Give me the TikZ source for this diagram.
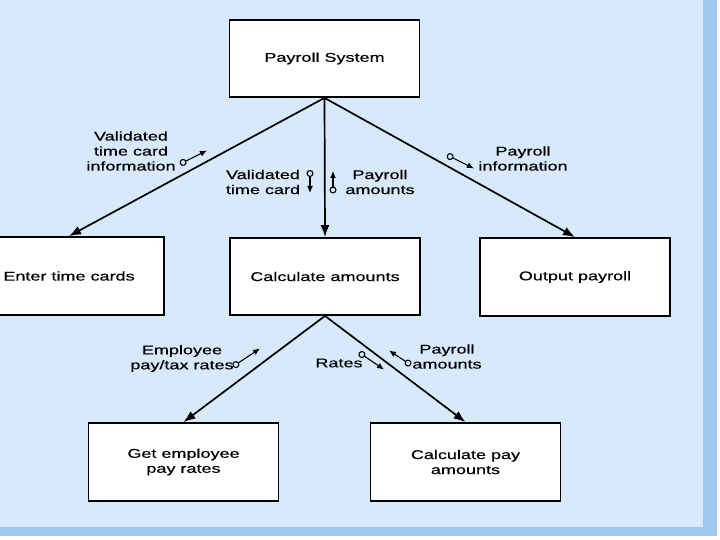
\documentclass[tikz,border=0pt]{standalone}
\usepackage{fontspec}
\setmainfont{Liberation Sans}[FakeStretch=1.42, FakeBold=0.4]
\usetikzlibrary{arrows.meta}
\definecolor{panelblue}{RGB}{215,233,251}
\definecolor{edgeblue}{RGB}{160,199,240}
\tikzset{
	box/.style={draw, fill=white, rectangle, line width=1.8pt, minimum width=190pt, minimum height=77pt, align=center, text centered},
	lab/.style={align=center, inner sep=0pt},
	flow/.style={line width=1.7pt, -{Latex[length=12pt,width=9pt]}},
	couple/.style={line width=1.1pt, {Circle[open,length=7pt,width=7pt]}-{Latex[length=7pt,width=6pt]}}
}
\begin{document}
\begin{tikzpicture}[x=1pt, y=-1pt, font=\fontsize{12.7}{15}\selectfont]

	%Background
	\useasboundingbox (0,0) rectangle (720,540);
	\fill[white] (0,0) rectangle (720,540);
	\fill[edgeblue] (0,0) rectangle (717,536);
	\fill[panelblue] (0,0) rectangle (703,527);

	%Nodes
	\node (payroll) at (324.5,58.5) [box]{Payroll System};
	\node (enter) at (69,276) [box, minimum height=78pt]{Enter time cards};
	\node (calc) at (325,276.5) [box]{Calculate amounts};
	\node (output) at (575,277) [box, minimum height=78pt]{Output payroll};
	\node (getrates) at (183.5,462) [box, minimum height=78pt]{Get employee\\pay rates};
	\node (calcpay) at (465.5,462) [box, minimum height=78pt]{Calculate pay\\amounts};

	%Links
	\draw[flow] (payroll.south) -- (enter.north);
	\draw[flow] (payroll.south) -- (calc.north);
	\draw[flow] (payroll.south) -- (output.north);
	\draw[flow] (calc.south) -- (getrates.north);
	\draw[flow] (calc.south) -- (calcpay.north);

	%Data couples
	\node (timeinfo) at (131,151) [lab]{Validated\\time card\\information};
	\node (timecard) at (263,182) [lab]{Validated\\time card};
	\node (payamounts) at (380,182) [lab]{Payroll\\amounts};
	\node (payinfo) at (523,158.5) [lab]{Payroll\\information};
	\node (emprates) at (182,358.5) [lab]{Employee\\pay/tax rates};
	\node (rates) at (339,363) [lab]{Rates};
	\node (calcamounts) at (447,356.5) [lab]{Payroll\\amounts};

	\draw[couple] (180,164) -- (207,150.5);
	\draw[couple] (310,170) -- (310,193);
	\draw[couple] (333,193.5) -- (333,171);
	\draw[couple] (447,155) -- (474,168.5);
	\draw[couple] (233,366.5) -- (260,348.5);
	\draw[couple] (359,352.5) -- (384,369.5);
	\draw[couple] (411,365) -- (389,350.5);

\end{tikzpicture}
\end{document}
